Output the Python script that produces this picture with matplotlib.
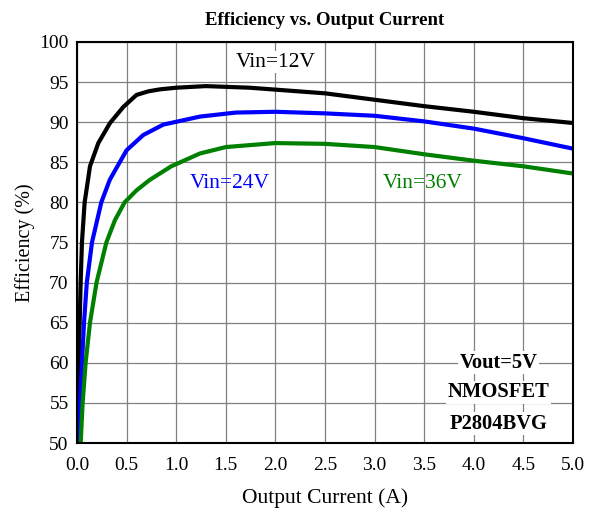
import numpy as np
import matplotlib.pyplot as plt

plt.rcParams['font.family'] = ['Liberation Serif', 'DejaVu Serif']

# Output current (A) and efficiency (%)
x_12 = [0.0, 0.007, 0.017, 0.027, 0.037, 0.05, 0.077, 0.111, 0.131, 0.215,
        0.333, 0.467, 0.6, 0.72, 0.84, 1.0, 1.3, 1.74, 2.5, 3.0, 3.5, 4.0, 4.5, 5.0]
eff_12 = [50, 55, 60, 65, 70, 75, 80, 82.8, 84.5, 87.4,
          89.9, 91.9, 93.4, 93.85, 94.1, 94.3, 94.5, 94.3, 93.6, 92.8, 92.0, 91.3, 90.5, 89.9]

x_24 = [0.013, 0.03, 0.05, 0.071, 0.099, 0.151, 0.245, 0.33, 0.366, 0.5,
        0.668, 0.87, 1.24, 1.6, 2.0, 2.5, 3.0, 3.5, 4.0, 4.5, 5.0]
eff_24 = [50, 55, 60, 65, 70, 75, 80, 82.8, 83.6, 86.5,
          88.4, 89.7, 90.7, 91.2, 91.3, 91.1, 90.8, 90.1, 89.2, 88.0, 86.7]

x_36 = [0.037, 0.057, 0.087, 0.131, 0.197, 0.296, 0.383, 0.48, 0.6, 0.733,
        0.95, 1.24, 1.5, 2.0, 2.5, 3.0, 3.5, 4.0, 4.5, 5.0]
eff_36 = [50, 55, 60, 65, 70, 75, 77.8, 80, 81.5, 82.8,
          84.5, 86.1, 86.9, 87.4, 87.3, 86.9, 86.0, 85.2, 84.5, 83.6]

x_ticks = np.arange(0, 5.01, 0.5)
y_ticks = np.arange(50, 101, 5)

fig = plt.figure(figsize=(5.89, 5.14), dpi=100)
ax = fig.add_axes([0.1307, 0.1381, 0.8421, 0.7802])

line_kw = dict(lw=3, solid_capstyle='butt', solid_joinstyle='round')
ax.plot(x_12, eff_12, color='black', **line_kw)
ax.plot(x_24, eff_24, color='#0000ff', **line_kw)
ax.plot(x_36, eff_36, color='#008000', **line_kw)

ax.set_xlim(0, 5)
ax.set_ylim(50, 100)
ax.set_xticks(x_ticks)
ax.set_yticks(y_ticks)
ax.set_xticklabels([f'{v:.1f}' for v in x_ticks])
ax.tick_params(length=0, labelsize=14)
ax.tick_params(axis='x', pad=10)
ax.tick_params(axis='y', pad=6)
ax.grid(True, color='#808080', lw=0.9)
ax.set_axisbelow(True)
for s in ax.spines.values():
    s.set_linewidth(1.5)

ax.set_xlabel('Output Current (A)', fontsize=15.5, labelpad=10)
ax.set_ylabel('Efficiency (%)', fontsize=14.5, labelpad=3)
ax.set_title('Efficiency vs. Output Current', fontsize=13.5, fontweight='bold', pad=12)

ax.text(2.0, 97.5, 'Vin=12V', color='black', fontsize=15.5, ha='center', va='center',
        bbox=dict(facecolor='white', edgecolor='none', pad=1))
ax.text(1.54, 82.4, 'Vin=24V', color='#0000ff', fontsize=15.5, ha='center', va='center')
ax.text(3.48, 82.4, 'Vin=36V', color='#008000', fontsize=15.5, ha='center', va='center')

for y, s in [(60.0, 'Vout=5V'), (56.3, 'NMOSFET'), (52.4, 'P2804BVG')]:
    ax.text(4.25, y, s, fontsize=14.8, fontweight='bold', ha='center', va='center',
            bbox=dict(facecolor='white', edgecolor='none', pad=1))

fig.savefig('out.png', dpi=100)
